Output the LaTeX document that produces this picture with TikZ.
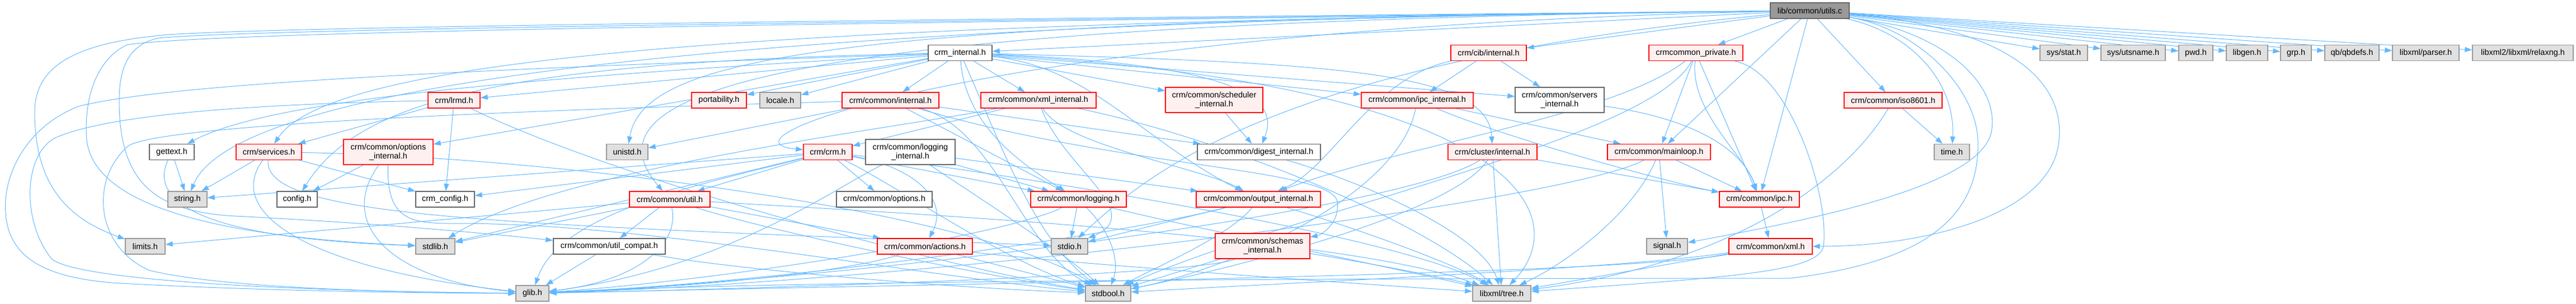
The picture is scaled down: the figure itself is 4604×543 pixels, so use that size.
\documentclass[tikz,border=0pt]{standalone}
\usepackage{fontspec}
\setmainfont{Liberation Sans}
\usetikzlibrary{arrows.meta}
\pgfdeclarelayer{bg}
\pgfsetlayers{bg,main}
\definecolor{edgec}{HTML}{63B8FF}
\definecolor{redfill}{HTML}{FFF0F0}
\definecolor{redline}{HTML}{FF0000}
\definecolor{greyfill}{HTML}{E0E0E0}
\definecolor{greyline}{HTML}{999999}
\definecolor{darkline}{HTML}{666666}
\definecolor{rootfill}{HTML}{999999}
\begin{document}
\begin{tikzpicture}[x=1pt,y=-1pt,
  box/.style={rectangle, draw, line width=1.4pt, inner sep=0pt, minimum height=28pt,
    font=\fontsize{14.5}{16.6}\selectfont, align=center},
  redbox/.style={box, draw=redline, fill=redfill},
  sysbox/.style={box, draw=greyline, fill=greyfill},
  plainbox/.style={box, draw=darkline, fill=white},
  rootbox/.style={box, draw=darkline, fill=rootfill},
  tall/.style={minimum height=45pt},
  edge/.style={draw=edgec, line width=1pt, -{Triangle[length=13pt,width=9pt]}}
]
\useasboundingbox (0,0) rectangle (4604,543);
% ---------------- nodes ----------------
\node[rootbox, minimum width=141pt] (U) at (3234.5,19) {lib/common/utils.c};
% row 1
\node[plainbox, minimum width=114pt] (ci) at (1716,94.5) {crm\_internal.h};
\node[redbox, minimum width=135pt] (cib) at (2660.5,94.5) {crm/cib/internal.h};
\node[redbox, minimum width=168pt] (ccp) at (3031,94.5) {crmcommon\_private.h};
\node[sysbox, minimum width=85pt] (sstat) at (3688.5,94.5) {sys/stat.h};
\node[sysbox, minimum width=115pt] (suts) at (3812.5,94.5) {sys/utsname.h};
\node[sysbox, minimum width=61pt] (pwd) at (3924.5,94.5) {pwd.h};
\node[sysbox, minimum width=74pt] (libgen) at (4016,94.5) {libgen.h};
\node[sysbox, minimum width=55pt] (grp) at (4103.5,94.5) {grp.h};
\node[sysbox, minimum width=97pt] (qb) at (4203.5,94.5) {qb/qbdefs.h};
\node[sysbox, minimum width=119pt] (parser) at (4335.5,94.5) {libxml/parser.h};
\node[sysbox, minimum width=180pt] (relax) at (4509,94.5) {libxml2/libxml/relaxng.h};
% row 2
\node[redbox, minimum width=93pt] (lrmd) at (811.5,179) {crm/lrmd.h};
\node[redbox, minimum width=98pt] (port) at (1285,179) {portability.h};
\node[sysbox, minimum width=73pt] (locale) at (1394.5,179) {locale.h};
\node[redbox, minimum width=173pt] (cint) at (1591.5,179) {crm/common/internal.h};
\node[redbox, minimum width=206pt] (xmli) at (1856,179) {crm/common/xml\_internal.h};
\node[redbox, tall, minimum width=174pt] (sched) at (2170,178.5) {crm/common/scheduler\\\_internal.h};
\node[redbox, minimum width=200pt] (ipci) at (2533,179) {crm/common/ipc\_internal.h};
\node[plainbox, tall, minimum width=159pt] (serv) at (2787.5,178.5) {crm/common/servers\\\_internal.h};
\node[redbox, minimum width=175pt] (iso) at (3383.5,179) {crm/common/iso8601.h};
% row 3
\node[plainbox, minimum width=80pt] (gettext) at (307,271.5) {gettext.h};
\node[redbox, minimum width=117pt] (svc) at (480.5,271.5) {crm/services.h};
\node[redbox, tall, minimum width=160pt] (opti) at (694,271.5) {crm/common/options\\\_internal.h};
\node[sysbox, minimum width=74pt] (unistd) at (1121,271.5) {unistd.h};
\node[redbox, minimum width=87pt] (crm) at (1479.5,271.5) {crm/crm.h};
\node[plainbox, tall, minimum width=160pt] (logi) at (1627,271.5) {crm/common/logging\\\_internal.h};
\node[plainbox, minimum width=220pt] (dig) at (2250,271.5) {crm/common/digest\_internal.h};
\node[redbox, minimum width=159pt] (clu) at (2667.5,271.5) {crm/cluster/internal.h};
\node[redbox, minimum width=184pt] (main) at (2965,271.5) {crm/common/mainloop.h};
\node[sysbox, minimum width=63pt] (time) at (3488.5,271.5) {time.h};
% row 4
\node[sysbox, minimum width=70pt] (string) at (335,356) {string.h};
\node[plainbox, minimum width=72pt] (config) at (531,356) {config.h};
\node[plainbox, minimum width=105pt] (crmcfg) at (795.5,356) {crm\_config.h};
\node[redbox, minimum width=144pt] (util) at (1197,356) {crm/common/util.h};
\node[plainbox, minimum width=171pt] (opts) at (1580.5,356) {crm/common/options.h};
\node[redbox, minimum width=171pt] (log) at (1927.5,356) {crm/common/logging.h};
\node[redbox, minimum width=222pt] (out) at (2249,356) {crm/common/output\_internal.h};
\node[redbox, minimum width=143pt] (ipc) at (3144.5,356) {crm/common/ipc.h};
% row 5
\node[sysbox, minimum width=71pt] (limits) at (259.5,440) {limits.h};
\node[sysbox, minimum width=70pt] (stdlib) at (778,440) {stdlib.h};
\node[plainbox, minimum width=200pt] (compat) at (1089,440) {crm/common/util\_compat.h};
\node[redbox, minimum width=170pt] (act) at (1653,440) {crm/common/actions.h};
\node[sysbox, minimum width=65pt] (stdio) at (1911.5,440) {stdio.h};
\node[redbox, tall, minimum width=169pt] (schem) at (2256.5,439.5) {crm/common/schemas\\\_internal.h};
\node[sysbox, minimum width=73pt] (signal) at (2979.5,440) {signal.h};
\node[redbox, minimum width=149pt] (xml) at (3164.5,440) {crm/common/xml.h};
% row 6
\node[sysbox, minimum width=59pt] (glib) at (951.5,524) {glib.h};
\node[sysbox, minimum width=81pt] (stdbool) at (1980.5,524) {stdbool.h};
\node[sysbox, minimum width=104pt] (tree) at (2684,524) {libxml/tree.h};
% ---------------- edges ----------------
\begin{pgfonlayer}{bg}
% utils.c
\draw[edge] (U) -- (ci);
\draw[edge] (U) -- (cib);
\draw[edge] (U) -- (ccp);
\draw[edge] (U) -- (sstat);
\draw[edge] (U) -- (suts);
\draw[edge] (U) -- (pwd);
\draw[edge] (U) -- (libgen);
\draw[edge] (U) -- (grp);
\draw[edge] (U) -- (qb);
\draw[edge] (U) -- (parser);
\draw[edge] (U) -- (relax);
\draw[edge] (U) -- (iso);
\draw[edge] (U) -- (main);
\draw[edge] (U) -- (ipc);
\draw[edge] (U) .. controls (3420,60) and (3495,150) .. (time);
\draw[edge] (U) .. controls (3600,50) and (3690,150) .. (3680,250) .. controls (3670,380) and (3450,440) .. (xml);
\draw[edge] (U) .. controls (3480,60) and (3570,150) .. (3560,230) .. controls (3550,330) and (3250,390) .. (signal);
\draw[edge] (U) .. controls (3420,50) and (3530,150) .. (3535,250) .. controls (3540,400) and (3420,470) .. (3200,497) .. controls (2500,497) and (1400,500) .. (glib);
\draw[edge] (U) .. controls (1400,40) and (1030,160) .. (util);
\draw[edge] (U) .. controls (1500,35) and (1150,100) .. (unistd);
\draw[edge] (U) .. controls (1800,50) and (1250,250) .. (crm);
\draw[edge] (U) .. controls (1500,40) and (600,90) .. (svc);
\draw[edge] (U) .. controls (1300,38) and (420,150) .. (string);
\draw[edge] (U) .. controls (1500,42) and (400,55) .. (227,80) .. controls (165,110) and (150,190) .. (155,250) .. controls (165,340) and (300,420) .. (stdlib);
\draw[edge] (U) .. controls (1500,36) and (500,48) .. (300,62) .. controls (150,75) and (62,110) .. (62,200) .. controls (62,330) and (120,390) .. (limits);
\draw[edge] (U) .. controls (1500,39) and (450,52) .. (283,68) .. controls (230,80) and (213,120) .. (213,180) .. controls (213,330) and (280,378) .. (420,386) .. controls (700,400) and (900,420) .. (compat);
\draw[edge] (U) .. controls (2300,110) and (2060,300) .. (stdio);
% crm_internal.h
\draw[edge] (ci) -- (cint);
\draw[edge] (ci) -- (xmli);
\draw[edge] (ci) .. controls (1725,220) and (1820,290) .. (log);
\draw[edge] (ci) .. controls (1950,120) and (2040,250) .. (out);
\draw[edge] (ci) -- (sched);
\draw[edge] (ci) .. controls (2200,115) and (2290,170) .. (dig);
\draw[edge] (ci) -- (serv);
\draw[edge] (ci) -- (ipci);
\draw[edge] (ci) .. controls (2400,112) and (2660,130) .. (clu);
\draw[edge] (ci) .. controls (2700,150) and (2820,380) .. (tree);
\draw[edge] (ci) .. controls (1790,260) and (1850,430) .. (stdbool);
\draw[edge] (ci) .. controls (900,110) and (640,180) .. (config);
\draw[edge] (ci) -- (port);
\draw[edge] (ci) -- (locale);
\draw[edge] (ci) -- (lrmd);
\draw[edge] (ci) -- (opti);
\draw[edge] (ci) .. controls (900,140) and (480,180) .. (gettext);
\draw[edge] (ci) .. controls (800,125) and (300,150) .. (140,190) .. controls (40,230) and (5,320) .. (10,380) .. controls (15,460) and (80,495) .. (200,505) .. controls (450,520) and (800,524) .. (glib);
% crm/common/internal.h
\draw[edge] (cint) -- (unistd);
\draw[edge] (cint) -- (log);
\draw[edge] (cint) -- (dig);
\draw[edge] (cint) .. controls (2000,300) and (2380,300) .. (2390,360) .. controls (2395,400) and (2360,420) .. (schem);
\draw[edge] (cint) .. controls (1000,195) and (300,220) .. (230,260) .. controls (160,320) and (170,440) .. (267,483) .. controls (400,515) and (700,522) .. (glib);
\draw[edge] (cint) .. controls (1780,230) and (1830,450) .. (stdbool);
% crm/lrmd.h
\draw[edge] (lrmd) -- (svc);
\draw[edge] (lrmd) -- (crmcfg);
\draw[edge] (lrmd) .. controls (1100,320) and (1700,480) .. (stdbool);
\draw[edge] (lrmd) .. controls (500,185) and (200,200) .. (97,247) .. controls (40,280) and (40,400) .. (93,463) .. controls (140,500) and (500,520) .. (glib);
% crm/services.h
\draw[edge] (svc) -- (string);
\draw[edge] (svc) -- (crmcfg);
\draw[edge] (svc) .. controls (400,380) and (550,480) .. (glib);
\draw[edge] (svc) .. controls (470,390) and (900,400) .. (stdio);
\draw[edge] (svc) .. controls (1000,280) and (1750,380) .. (stdbool);
% options_internal
\draw[edge] (opti) -- (config);
\draw[edge] (opti) .. controls (600,400) and (700,500) .. (glib);
\draw[edge] (opti) .. controls (690,420) and (760,395) .. (880,400) .. controls (1200,408) and (1700,500) .. (stdbool);
% gettext
\draw[edge] (gettext) -- (string);
\draw[edge] (gettext) .. controls (270,350) and (330,425) .. (stdlib);
% crm/crm.h
\draw[edge] (crm) -- (crmcfg);
\draw[edge] (crm) -- (stdlib);
\draw[edge] (crm) -- (string);
\draw[edge] (crm) .. controls (1250,330) and (1000,380) .. (glib);
\draw[edge] (crm) -- (util);
\draw[edge] (crm) -- (opts);
\draw[edge] (crm) -- (log);
\draw[edge] (crm) .. controls (1620,295) and (1700,350) .. (act);
\draw[edge] (crm) .. controls (1600,330) and (1800,470) .. (stdbool);
\draw[edge] (crm) .. controls (1800,310) and (2500,420) .. (tree);
% util.h
\draw[edge] (util) -- (compat);
\draw[edge] (util) -- (limits);
\draw[edge] (util) -- (stdlib);
\draw[edge] (util) .. controls (1215,430) and (1150,500) .. (glib);
\draw[edge] (util) .. controls (1400,420) and (1800,500) .. (stdbool);
\draw[edge] (util) .. controls (1600,380) and (2400,420) .. (tree);
\draw[edge] (util) -- (act);
% util_compat.h
\draw[edge] (compat) -- (glib);
\draw[edge] (compat) .. controls (1300,480) and (1700,515) .. (stdbool);
% actions.h
\draw[edge] (act) -- (stdbool);
\draw[edge] (act) .. controls (1500,490) and (1200,515) .. (glib);
\draw[edge] (act) .. controls (1900,470) and (2400,505) .. (tree);
% logging.h
\draw[edge] (log) -- (stdio);
\draw[edge] (log) .. controls (1800,420) and (1300,500) .. (glib);
\draw[edge] (log) .. controls (2100,400) and (2500,480) .. (tree);
\draw[edge] (log) .. controls (1990,420) and (2000,470) .. (stdbool);
% logging_internal.h
\draw[edge] (logi) -- (log);
\draw[edge] (logi) -- (out);
\draw[edge] (logi) .. controls (1500,330) and (1300,480) .. (glib);
\draw[edge] (logi) .. controls (1760,360) and (1900,450) .. (stdbool);
% output_internal.h
\draw[edge] (out) -- (stdio);
\draw[edge] (out) .. controls (2200,420) and (2060,480) .. (stdbool);
\draw[edge] (out) .. controls (2000,420) and (1400,505) .. (glib);
\draw[edge] (out) .. controls (2400,400) and (2600,470) .. (tree);
% schemas_internal.h
\draw[edge] (schem) -- (stdbool);
\draw[edge] (schem) .. controls (2150,490) and (1400,515) .. (glib);
\draw[edge] (schem) .. controls (2450,470) and (2600,500) .. (tree);
% xml_internal.h
\draw[edge] (xmli) -- (crm);
\draw[edge] (xmli) .. controls (1900,260) and (2150,300) .. (out);
\draw[edge] (xmli) .. controls (1900,300) and (2050,380) .. (stdio);
\draw[edge] (xmli) .. controls (1600,230) and (1000,300) .. (stdlib);
\draw[edge] (xmli) .. controls (2200,250) and (2550,400) .. (tree);
% cib/internal.h
\draw[edge] (cib) -- (ipci);
\draw[edge] (cib) -- (serv);
\draw[edge] (cib) .. controls (2450,140) and (2380,300) .. (out);
% crmcommon_private.h
\draw[edge] (ccp) -- (main);
\draw[edge] (ccp) -- (ipc);
\draw[edge] (ccp) .. controls (3020,200) and (3120,280) .. (ipc);
\draw[edge] (ccp) .. controls (2880,210) and (2500,260) .. (out);
\draw[edge] (ccp) .. controls (2950,250) and (2300,380) .. (stdbool);
\draw[edge] (ccp) .. controls (3200,130) and (3270,350) .. (3259,440) .. controls (3250,485) and (3100,495) .. (tree);
% ipc_internal.h
\draw[edge] (ipci) -- (main);
\draw[edge] (ipci) .. controls (2700,250) and (3000,330) .. (ipc);
\draw[edge] (ipci) .. controls (2500,350) and (2200,480) .. (stdbool);
% servers_internal.h
\draw[edge] (serv) .. controls (3050,215) and (3120,280) .. (ipc);
% scheduler / digest
\draw[edge] (sched) -- (dig);
\draw[edge] (dig) .. controls (2450,330) and (2650,420) .. (tree);
% cluster/internal.h
\draw[edge] (clu) -- (ipc);
\draw[edge] (clu) -- (tree);
\draw[edge] (clu) .. controls (2600,380) and (2200,480) .. (stdbool);
\draw[edge] (clu) .. controls (2500,380) and (1500,500) .. (glib);
% mainloop.h
\draw[edge] (main) -- (signal);
\draw[edge] (main) -- (ipc);
\draw[edge] (main) .. controls (2920,380) and (2800,470) .. (tree);
\draw[edge] (main) .. controls (2800,360) and (1700,500) .. (glib);
% ipc.h / xml.h / iso8601.h
\draw[edge] (ipc) -- (xml);
\draw[edge] (xml) -- (tree);
\draw[edge] (xml) .. controls (2900,480) and (2300,505) .. (stdbool);
\draw[edge] (xml) .. controls (2900,490) and (1800,505) .. (glib);
\draw[edge] (iso) -- (time);
\draw[edge] (iso) .. controls (3300,320) and (3100,470) .. (tree);
\end{pgfonlayer}
\end{tikzpicture}
\end{document}
